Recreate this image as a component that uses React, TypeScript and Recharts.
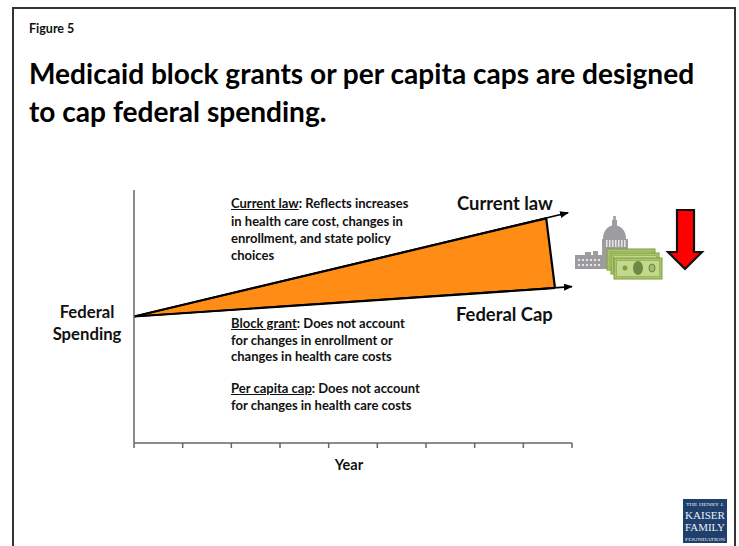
import React from "react";
import { ComposedChart, Area, Line, XAxis, YAxis } from "recharts";

// Spending index by year; federal spending starts from a shared base value.
const yearTicks = [0, 1, 2, 3, 4, 5, 6, 7, 8, 9];
const currentLawLine = [
  { year: 0, value: 50 },
  { year: 8.92, value: 91 },
];
const federalCapLine = [
  { year: 0, value: 50 },
  { year: 9, value: 61.8 },
];
const gapWedge = [
  { year: 0, range: [50, 50] },
  { year: 8.47, range: [61, 88.8] },
  { year: 8.65, range: [61.3, 61.3] },
];

const FONT = "Lato, sans-serif";

const textAt = (left: number, top: number, size: number, extra: React.CSSProperties = {}): React.CSSProperties => ({
  position: "absolute",
  left,
  top,
  fontFamily: FONT,
  fontWeight: 700,
  fontSize: size,
  color: "#111",
  whiteSpace: "nowrap",
  ...extra,
});

const noteLines: [number, number, string, string][] = [
  [231, 195, "Current law", ": Reflects increases"],
  [231, 213, "", "in health care cost, changes in"],
  [231, 230, "", "enrollment, and state policy"],
  [231, 247, "", "choices"],
  [231, 315, "Block grant", ": Does not account"],
  [231, 332, "", "for changes in enrollment or"],
  [231, 348, "", "changes in health care costs"],
  [231, 380, "Per capita cap", ": Does not account"],
  [231, 397, "", "for changes in health care costs"],
];

function CapitolAndBills() {
  return (
    <svg width={739} height={546} style={{ position: "absolute", left: 0, top: 0 }}>
      {/* Capitol building */}
      <g fill="#9d9da0">
        <rect x={575} y={255} width={42} height={14} />
        <rect x={585} y={252} width={6} height={4} />
        <rect x={593} y={251} width={5} height={5} />
        <rect x={602} y={242} width={26} height={14} />
        <rect x={602} y={239} width={26} height={3} />
        <path d="M603 239 C603 230 608 226 614.5 225 C621 226 626 230 626 239 Z" />
        <rect x={613.2} y={216} width={2.6} height={10} />
        <rect x={612} y={220} width={5} height={6} />
      </g>
      <g fill="#e6e6e8">
        {[578, 582, 586, 590, 594, 598].map((x) => (
          <rect key={x} x={x} y={259} width={2} height={2} />
        ))}
        {[578, 582, 586, 590, 594, 598].map((x) => (
          <rect key={x} x={x} y={264} width={2} height={2} />
        ))}
        {[606, 609, 612, 615, 618, 621, 624].map((x) => (
          <rect key={x} x={x} y={240} width={1.5} height={7} />
        ))}
      </g>
      {/* Stack of bills */}
      {[
        [607, 249],
        [611, 253],
        [614, 258],
      ].map(([x, y]) => (
        <g key={x}>
          <rect x={x} y={y} width={48} height={21} fill="#a9c568" stroke="#7f9c44" strokeWidth={1} />
          <rect x={x + 2.5} y={y + 2.5} width={43} height={16} fill="#c4d88d" stroke="#8dab52" strokeWidth={0.7} />
        </g>
      ))}
      <ellipse cx={638} cy={268} rx={5} ry={7} fill="#6d8a45" />
      <ellipse cx={652} cy={268} rx={3} ry={4} fill="#a3bd68" stroke="#66803a" />
      <circle cx={625} cy={268} r={2.5} fill="#7f9c44" />
      {/* Downward arrow */}
      <polygon
        points="677,210 694,210 694,252 702,252 685,269 668,252 677,252"
        fill="#ff0000"
        stroke="#111"
        strokeWidth={2.2}
      />
      {/* Foundation logo */}
      <rect x={683} y={499} width={44} height={44} fill="#1f3f6c" />
      <g fill="#eef1f5" fontFamily="Liberation Serif, serif" textAnchor="middle">
        <text x={705} y={506} fontSize={5} textLength={38} lengthAdjust="spacingAndGlyphs">THE HENRY J.</text>
        <text x={705} y={519} fontSize={10.2} textLength={40} lengthAdjust="spacingAndGlyphs">KAISER</text>
        <text x={705} y={531} fontSize={10.2} textLength={40} lengthAdjust="spacingAndGlyphs">FAMILY</text>
        <text x={705} y={541} fontSize={4.6} textLength={40} lengthAdjust="spacingAndGlyphs">FOUNDATION</text>
      </g>
    </svg>
  );
}

export default function App() {
  return (
    <div style={{ position: "absolute", left: 0, top: 0, width: 739, height: 546, overflow: "hidden", background: "#fff" }}>
      {/* Slide frame, open at the bottom edge */}
      <div
        style={{
          position: "absolute",
          left: 12,
          top: 7,
          width: 720,
          height: 560,
          border: "2px solid #333",
          boxSizing: "content-box",
        }}
      />
      <ComposedChart
        width={739}
        height={546}
        margin={{ left: 124, right: 167, top: 190, bottom: 63 }}
        style={{ position: "absolute", left: 0, top: 0 }}
      >
        <defs>
          <marker id="arrowTip" viewBox="0 0 10 10" refX={9} refY={5} markerWidth={9} markerHeight={7} markerUnits="userSpaceOnUse" orient="auto" preserveAspectRatio="none">
            <path d="M0 0 L10 5 L0 10 Z" fill="#000" />
          </marker>
        </defs>
        <XAxis
          dataKey="year"
          type="number"
          domain={[0, 9]}
          ticks={yearTicks}
          tickFormatter={() => ""}
          tickSize={5}
          height={40}
          stroke="#666"
          strokeWidth={1.5}
          label={{ value: "Year", position: "insideBottom", offset: 13, dx: -4, fill: "#111", fontFamily: FONT, fontWeight: 700, fontSize: 14.5 }}
          allowDuplicatedCategory={false}
        />
        <YAxis type="number" domain={[0, 100]} tick={false} tickLine={false} width={10} stroke="#666" strokeWidth={1.5} />
        <Area
          data={gapWedge}
          dataKey="range"
          type="linear"
          fill="#ff8c14"
          fillOpacity={1}
          stroke="#000"
          strokeWidth={2.2}
          dot={false}
          activeDot={false}
          isAnimationActive={false}
        />
        <Line data={currentLawLine} dataKey="value" type="linear" stroke="#000" strokeWidth={1.6} dot={false} activeDot={false} markerEnd="url(#arrowTip)" isAnimationActive={false} />
        <Line data={federalCapLine} dataKey="value" type="linear" stroke="#000" strokeWidth={1.6} dot={false} activeDot={false} markerEnd="url(#arrowTip)" isAnimationActive={false} />
      </ComposedChart>

      <div style={textAt(29, 21, 12.5)}>Figure 5</div>
      <div style={textAt(29, 54, 28.1, { lineHeight: "38px", color: "#000" })}>
        Medicaid block grants or per capita caps are designed
        <br />
        to cap federal spending.
      </div>

      <div style={textAt(47, 301, 16.7, { width: 80, textAlign: "center", lineHeight: "22px" })}>
        Federal
        <br />
        Spending
      </div>
      <div style={textAt(457, 192, 18.4)}>Current law</div>
      <div style={textAt(456, 303, 18.4)}>Federal Cap</div>

      {noteLines.map(([left, top, lead, rest]) => (
        <div key={top} style={textAt(left, top, 13)}>
          {lead ? <span style={{ textDecoration: "underline" }}>{lead}</span> : null}
          {rest}
        </div>
      ))}

      <CapitolAndBills />
    </div>
  );
}
